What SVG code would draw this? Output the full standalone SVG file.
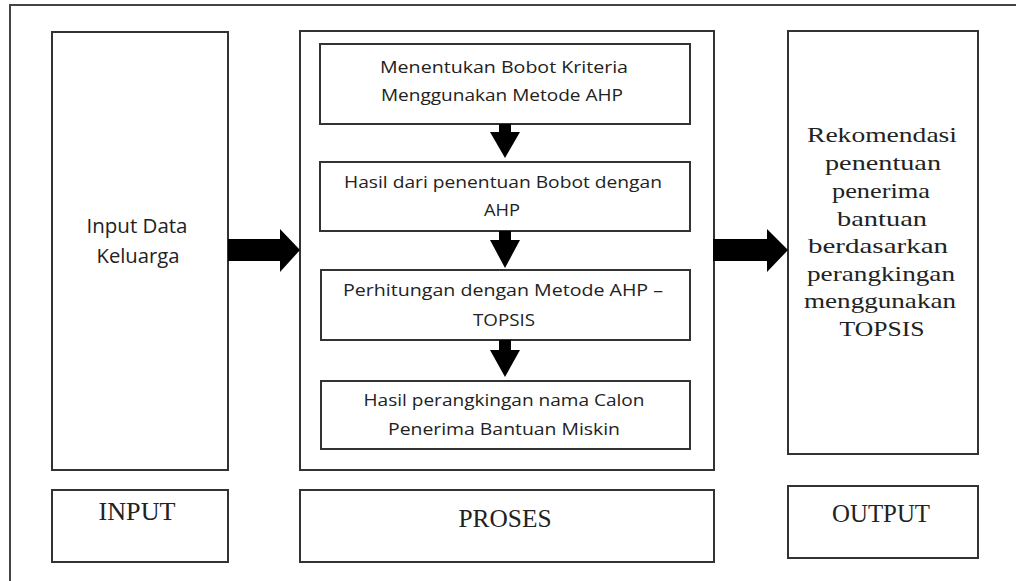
<svg xmlns="http://www.w3.org/2000/svg" width="1016" height="581" viewBox="0 0 1016 581">
<style>
.box{fill:#fff;stroke:#333;stroke-width:2}
.frame{fill:none;stroke:#444;stroke-width:2}
.arr{fill:#000;stroke:none}
.sans{font-family:"Open Sans","Liberation Sans",sans-serif;font-size:16px;fill:#222;text-anchor:middle}
.in{font-family:"Open Sans","Liberation Sans",sans-serif;font-size:20px;fill:#222;text-anchor:middle}
.serif{font-family:"Liberation Serif","Times New Roman",serif;font-size:22px;fill:#222;text-anchor:middle}
.lbl{font-family:"Liberation Serif","Times New Roman",serif;font-size:25px;fill:#222;text-anchor:middle}
</style>
<rect x="0" y="0" width="1016" height="581" fill="#fff"/>
<g id="frame">
<path class="frame" d="M10,581 L10,5 L1016,5"/>
</g>
<g id="input">
<rect class="box" x="52" y="32" width="176" height="438"/>
<text class="in" x="137" y="233" textLength="101" lengthAdjust="spacingAndGlyphs">Input Data</text>
<text class="in" x="138" y="263" textLength="83" lengthAdjust="spacingAndGlyphs">Keluarga</text>
</g>
<g id="proses">
<rect class="box" x="300" y="31" width="414" height="439"/>
</g>
<g id="step1">
<rect class="box" x="320" y="44" width="370" height="80"/>
<text class="sans" x="504" y="73" textLength="248" lengthAdjust="spacingAndGlyphs">Menentukan Bobot Kriteria</text>
<text class="sans" x="502" y="101" textLength="242" lengthAdjust="spacingAndGlyphs">Menggunakan Metode AHP</text>
</g>
<g id="step2">
<rect class="box" x="320" y="162" width="370" height="69"/>
<text class="sans" x="503" y="188" textLength="318" lengthAdjust="spacingAndGlyphs">Hasil dari penentuan Bobot dengan</text>
<text class="sans" x="502" y="216" textLength="36" lengthAdjust="spacingAndGlyphs">AHP</text>
</g>
<g id="step3">
<rect class="box" x="321" y="270" width="369" height="70"/>
<text class="sans" x="503" y="296" textLength="320" lengthAdjust="spacingAndGlyphs">Perhitungan dengan Metode AHP –</text>
<text class="sans" x="504" y="326" textLength="62" lengthAdjust="spacingAndGlyphs">TOPSIS</text>
</g>
<g id="step4">
<rect class="box" x="321" y="381" width="369" height="68"/>
<text class="sans" x="504" y="406" textLength="281" lengthAdjust="spacingAndGlyphs">Hasil perangkingan nama Calon</text>
<text class="sans" x="504" y="435" textLength="232" lengthAdjust="spacingAndGlyphs">Penerima Bantuan Miskin</text>
</g>
<g id="output">
<rect class="box" x="788" y="31" width="190" height="423"/>
<text class="serif" x="882" y="142" textLength="150" lengthAdjust="spacingAndGlyphs">Rekomendasi</text>
<text class="serif" x="883" y="170" textLength="116" lengthAdjust="spacingAndGlyphs">penentuan</text>
<text class="serif" x="881" y="198" textLength="98" lengthAdjust="spacingAndGlyphs">penerima</text>
<text class="serif" x="882" y="226" textLength="90" lengthAdjust="spacingAndGlyphs">bantuan</text>
<text class="serif" x="878" y="253" textLength="140" lengthAdjust="spacingAndGlyphs">berdasarkan</text>
<text class="serif" x="881" y="281" textLength="148" lengthAdjust="spacingAndGlyphs">perangkingan</text>
<text class="serif" x="880" y="308" textLength="152" lengthAdjust="spacingAndGlyphs">menggunakan</text>
<text class="serif" x="882" y="336" textLength="85" lengthAdjust="spacingAndGlyphs">TOPSIS</text>
</g>
<g id="label-input">
<rect class="box" x="52" y="490" width="176" height="72"/>
<text class="lbl" x="137" y="520" textLength="77" lengthAdjust="spacingAndGlyphs">INPUT</text>
</g>
<g id="label-proses">
<rect class="box" x="300" y="490" width="414" height="72"/>
<text class="lbl" x="505" y="527" textLength="93" lengthAdjust="spacingAndGlyphs">PROSES</text>
</g>
<g id="label-output">
<rect class="box" x="788" y="486" width="190" height="72"/>
<text class="lbl" x="881" y="522" textLength="98" lengthAdjust="spacingAndGlyphs">OUTPUT</text>
</g>
<g id="connectors">
<polygon class="arr" points="228,239 280,239 280,229 300,250 280,272 280,261 228,261"/>
<polygon class="arr" points="713,239 767,239 767,229 788,250 767,272 767,261 713,261"/>
<polygon class="arr" points="499,124 511,124 511,132 520,132 505,158 490,132 499,132"/>
<polygon class="arr" points="499,231 511,231 511,240 520,240 505,268 490,240 499,240"/>
<polygon class="arr" points="499,340 511,340 511,350 520,350 505,377 490,350 499,350"/>
</g>
</svg>
